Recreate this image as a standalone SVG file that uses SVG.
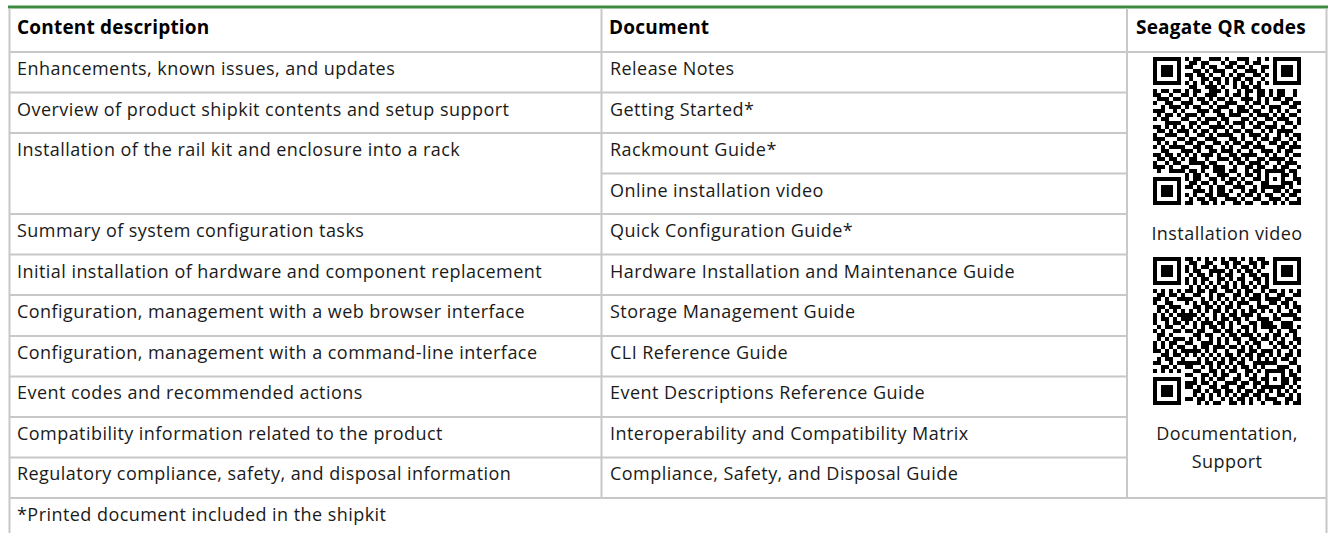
<svg xmlns="http://www.w3.org/2000/svg" xmlns:xlink="http://www.w3.org/1999/xlink" width="1328" height="533" viewBox="0 0 1328 533">
<style>
.t{font-family:"Open Sans","Noto Sans","Liberation Sans",sans-serif;font-size:18px;letter-spacing:0.45px;fill:#1a1a1a}
.h{font-family:"Open Sans","Noto Sans","Liberation Sans",sans-serif;font-size:19px;letter-spacing:0.2px;font-weight:700;fill:#000}
.c{text-anchor:middle}
.g{stroke:#c8c8c8;stroke-width:2;fill:none}
</style>
<defs>
<g id="fp"><rect x="0.5" y="0.5" width="6" height="6" fill="none" stroke="#000" stroke-width="1"/><rect x="2" y="2" width="3" height="3" fill="#000"/></g>
<path id="qrd" fill="none" stroke="#000" stroke-width="1" d="M8 .5h1m1 0h2m2 0h3m1 0h1m2 0h3m2 0h1m1 0h1
M9 1.5h2m1 0h2m3 0h1m1 0h2m2 0h1m1 0h2
M8 2.5h2m2 0h1m1 0h2m2 0h2m1 0h2m1 0h1m2 0h2
M10 3.5h2m1 0h1m1 0h3m2 0h1m2 0h3m1 0h1
M8 4.5h2m1 0h2m1 0h1m2 0h1m1 0h1m1 0h2m2 0h2m1 0h1
M9 5.5h1m2 0h2m1 0h2m1 0h1m1 0h2m1 0h2m2 0h1
M8 6.5h1m1 0h1m1 0h1m1 0h1m1 0h1m1 0h1m1 0h1m1 0h1m1 0h1m1 0h1m1 0h1
M9 7.5h2m2 0h3m1 0h1m2 0h1m1 0h2m1 0h2
M0 8.5h1m1 0h2m1 0h2m1 0h1m1 0h2m2 0h3m1 0h1m2 0h1m1 0h2m1 0h2m1 0h1m1 0h2m2 0h1
M0 9.5h2m2 0h1m2 0h2m1 0h1m2 0h3m2 0h1m1 0h2m1 0h1m2 0h2m1 0h1m1 0h2m2 0h1
M1 10.5h3m1 0h2m2 0h1m1 0h2m1 0h1m1 0h2m1 0h1m2 0h3m1 0h1m1 0h1m1 0h2m1 0h2
M0 11.5h1m2 0h2m2 0h3m2 0h2m1 0h1m2 0h3m2 0h1m1 0h2m1 0h1m3 0h2m1 0h2
M2 12.5h1m1 0h3m1 0h1m1 0h2m2 0h1m1 0h3m2 0h2m1 0h1m2 0h1m1 0h3m2 0h2
M0 13.5h3m2 0h1m1 0h1m3 0h3m1 0h2m2 0h1m1 0h3m1 0h2m2 0h1m1 0h1m1 0h1m2 0h1
M1 14.5h1m1 0h2m1 0h1m1 0h3m1 0h1m3 0h2m1 0h3m2 0h1m1 0h3m1 0h1m1 0h1m1 0h2
M0 15.5h1m1 0h2m3 0h2m2 0h1m1 0h3m1 0h2m3 0h2m1 0h1m2 0h2m1 0h3m2 0h1
M3 16.5h4m2 0h2m1 0h2m2 0h1m1 0h1m1 0h3m1 0h1m1 0h2m2 0h1m2 0h2m1 0h1
M0 17.5h2m1 0h1m1 0h1m1 0h1m1 0h1m1 0h1m2 0h4m1 0h1m2 0h1m2 0h2m1 0h3m1 0h1m2 0h1
M1 18.5h2m1 0h1m1 0h3m1 0h1m1 0h2m1 0h1m2 0h1m1 0h2m1 0h2m2 0h1m1 0h1m1 0h4
M0 19.5h1m2 0h3m2 0h1m2 0h2m1 0h1m1 0h4m2 0h1m1 0h3m1 0h1m2 0h1m1 0h1m1 0h2
M0 20.5h3m3 0h2m1 0h2m2 0h3m3 0h2m1 0h1m2 0h1m1 0h2m1 0h2m2 0h1m1 0h1
M1 21.5h1m1 0h1m1 0h1m2 0h2m1 0h2m2 0h2m1 0h1m1 0h2m1 0h2m1 0h1m2 0h2m1 0h2m1 0h1
M0 22.5h1m1 0h1m1 0h4m2 0h2m1 0h2m2 0h1m1 0h1m2 0h2m1 0h3m3 0h2m1 0h3
M2 23.5h2m3 0h3m1 0h1m2 0h2m1 0h3m1 0h1m2 0h1m2 0h3m1 0h1m1 0h2
M0 24.5h2m1 0h2m1 0h1m1 0h1m1 0h1m1 0h3m1 0h1m2 0h2m1 0h4m2 0h1m1 0h1m2 0h1m1 0h2
M1 25.5h2m1 0h2m1 0h1m1 0h2m2 0h1m2 0h3m1 0h2m1 0h1m2 0h2m1 0h4m1 0h1
M0 26.5h1m2 0h1m1 0h2m2 0h4m1 0h2m3 0h1m1 0h2m1 0h3m1 0h1m2 0h1m1 0h3
M0 27.5h3m1 0h1m2 0h2m3 0h2m1 0h3m2 0h1m2 0h2m1 0h2m2 0h1m1 0h2m2 0h1
M1 28.5h1m2 0h4m1 0h2m1 0h1m2 0h3m1 0h2m2 0h1m1 0h2m1 0h5m1 0h2
M8 29.5h1m1 0h2m1 0h1m2 0h3m2 0h1m1 0h2m1 0h1m1 0h1m3 0h2m1 0h1
M8 30.5h1m1 0h2m2 0h2m1 0h1m1 0h2m1 0h1m2 0h2m1 0h1m1 0h1m1 0h1m2 0h2
M9 31.5h2m1 0h2m1 0h1m2 0h2m1 0h1m1 0h2m2 0h2m3 0h3m1 0h1
M8 32.5h2m1 0h1m2 0h1m1 0h2m2 0h3m2 0h1m1 0h6m1 0h1
M10 33.5h3m1 0h1m1 0h2m1 0h1m2 0h1m1 0h2m1 0h1m2 0h2m1 0h1m1 0h2
M8 34.5h1m1 0h1m2 0h2m1 0h3m2 0h1m1 0h2m1 0h1m1 0h2m2 0h1m1 0h2
M9 35.5h1m1 0h2m1 0h2m2 0h3m1 0h1m2 0h2m2 0h3m1 0h1m2 0h1
M8 36.5h2m2 0h2m1 0h1m1 0h1m2 0h2m1 0h2m2 0h2m1 0h1m1 0h1m1 0h3"/>
</defs>
<rect width="1328" height="533" fill="#fff"/>

<g id="connectors">
<rect x="8" y="5.5" width="1320" height="3" fill="#3b8a3f"/>
<path class="g" d="M9.5 8.5V533M1326.5 8.5V533M601.5 8.5V498M1127 8.5V498"/>
<path class="g" d="M9 52H1327M9 498H1327"/>
<path class="g" d="M9 92.5H1127M9 133H1127M601 173.5H1127M9 214H1127M9 254.5H1127M9 295H1127M9 336H1127M9 376.5H1127M9 417H1127M9 457.5H1127"/>
</g>

<g id="header">
<text class="h" x="17" y="33.5">Content description</text>
<text class="h" x="609" y="33.5">Document</text>
<text class="h" x="1136" y="33.5">Seagate QR codes</text>
</g>

<g id="row-release"><text class="t" x="17" y="75">Enhancements, known issues, and updates</text><text class="t" x="610" y="75">Release Notes</text></g>
<g id="row-getting-started"><text class="t" x="17" y="115.5">Overview of product shipkit contents and setup support</text><text class="t" x="610" y="115.5">Getting Started*</text></g>
<g id="row-rackmount"><text class="t" x="17" y="156">Installation of the rail kit and enclosure into a rack</text><text class="t" x="610" y="156">Rackmount Guide*</text><text class="t" x="610" y="196.5">Online installation video</text></g>
<g id="row-quick-config"><text class="t" x="17" y="237">Summary of system configuration tasks</text><text class="t" x="610" y="237">Quick Configuration Guide*</text></g>
<g id="row-hardware"><text class="t" x="17" y="277.5">Initial installation of hardware and component replacement</text><text class="t" x="610" y="277.5">Hardware Installation and Maintenance Guide</text></g>
<g id="row-storage"><text class="t" x="17" y="318">Configuration, management with a web browser interface</text><text class="t" x="610" y="318">Storage Management Guide</text></g>
<g id="row-cli"><text class="t" x="17" y="358.5">Configuration, management with a command-line interface</text><text class="t" x="610" y="358.5">CLI Reference Guide</text></g>
<g id="row-event"><text class="t" x="17" y="399">Event codes and recommended actions</text><text class="t" x="610" y="399">Event Descriptions Reference Guide</text></g>
<g id="row-interop"><text class="t" x="17" y="439.5">Compatibility information related to the product</text><text class="t" x="610" y="439.5">Interoperability and Compatibility Matrix</text></g>
<g id="row-compliance"><text class="t" x="17" y="480">Regulatory compliance, safety, and disposal information</text><text class="t" x="610" y="480">Compliance, Safety, and Disposal Guide</text></g>
<g id="footnote"><text class="t" x="17" y="520.5">*Printed document included in the shipkit</text></g>

<g id="qr-install">
<g transform="translate(1153 57) scale(4)"><use xlink:href="#qrd"/><use xlink:href="#fp"/><use xlink:href="#fp" x="30"/><use xlink:href="#fp" y="30"/></g>
<text class="t c" x="1227" y="239.5">Installation video</text>
</g>
<g id="qr-docs">
<g transform="translate(1153 257) scale(4)"><use xlink:href="#qrd" transform="matrix(0 1 1 0 0 0)"/><use xlink:href="#fp"/><use xlink:href="#fp" x="30"/><use xlink:href="#fp" y="30"/></g>
<text class="t c" x="1227" y="439.5">Documentation,</text>
<text class="t c" x="1227" y="467.5">Support</text>
</g>
</svg>
